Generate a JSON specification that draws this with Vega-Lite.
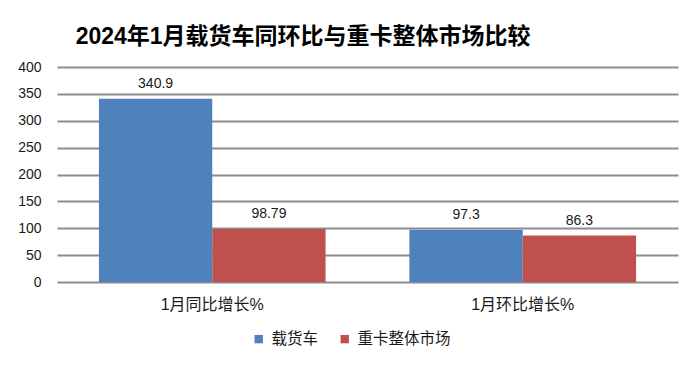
{
  "$schema": "https://vega.github.io/schema/vega-lite/v6.json",
  "width": 621,
  "height": 215,
  "autosize": {"type": "none"},
  "padding": {"left": 57, "top": 67, "right": 22, "bottom": 90},
  "background": "white",
  "title": {
    "text": "2024年1月载货车同环比与重卡整体市场比较",
    "anchor": "start",
    "dx": 58,
    "offset": 11,
    "fontSize": 23,
    "fontWeight": "bold",
    "font": "Liberation Sans Narrow, Liberation Sans, Noto Sans CJK SC",
    "color": "#000000"
  },
  "data": {
    "values": [
      {"category": "1月同比增长%", "series": "载货车", "value": 340.9, "label": "340.9"},
      {"category": "1月同比增长%", "series": "重卡整体市场", "value": 98.79, "label": "98.79"},
      {"category": "1月环比增长%", "series": "载货车", "value": 97.3, "label": "97.3"},
      {"category": "1月环比增长%", "series": "重卡整体市场", "value": 86.3, "label": "86.3"}
    ]
  },
  "encoding": {
    "x": {
      "field": "category",
      "type": "nominal",
      "sort": null,
      "scale": {"paddingInner": 0.27, "paddingOuter": 0.135},
      "axis": {
        "title": null,
        "labelAngle": 0,
        "domain": false,
        "ticks": false,
        "labelPadding": 14,
        "labelFontSize": 16,
        "labelFont": "Liberation Sans, Noto Sans CJK SC",
        "labelColor": "#1a1a1a"
      }
    },
    "xOffset": {"field": "series", "type": "nominal", "sort": ["载货车", "重卡整体市场"]},
    "y": {
      "field": "value",
      "type": "quantitative",
      "scale": {"domain": [0, 400]},
      "axis": {
        "title": null,
        "values": [0, 50, 100, 150, 200, 250, 300, 350, 400],
        "domain": false,
        "ticks": false,
        "labelPadding": 16,
        "labelFontSize": 14,
        "labelFont": "Liberation Sans",
        "labelColor": "#1a1a1a",
        "gridColor": "#8c8c8c",
        "gridWidth": 2
      }
    }
  },
  "layer": [
    {
      "mark": {"type": "bar"},
      "encoding": {
        "color": {
          "field": "series",
          "type": "nominal",
          "sort": ["载货车", "重卡整体市场"],
          "scale": {"domain": ["载货车", "重卡整体市场"], "range": ["#4F81BD", "#C0504D"]},
          "legend": {
            "title": null,
            "orient": "none",
            "direction": "horizontal",
            "legendX": 194,
            "legendY": 264,
            "symbolType": "square",
            "symbolSize": 70,
            "symbolStrokeWidth": 0,
            "labelFontSize": 15.5,
            "labelFont": "Noto Sans CJK SC",
            "labelColor": "#1a1a1a",
            "columnPadding": 18,
            "labelOffset": 5
          }
        }
      }
    },
    {
      "mark": {
        "type": "text",
        "baseline": "bottom",
        "dy": -8,
        "fontSize": 14,
        "font": "Liberation Sans",
        "color": "#1a1a1a"
      },
      "encoding": {
        "text": {"field": "label", "type": "nominal"}
      }
    }
  ],
  "config": {
    "view": {"stroke": null}
  }
}
